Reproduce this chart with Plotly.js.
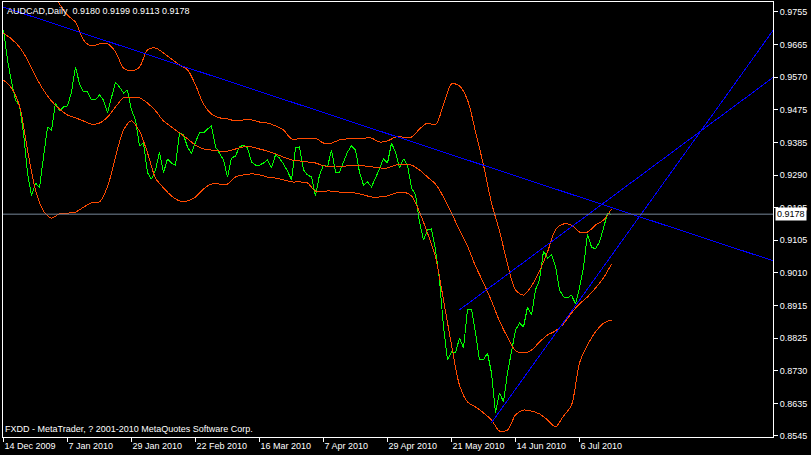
<!DOCTYPE html>
<html>
<head>
<meta charset="utf-8">
<script src="https://cdn.plot.ly/plotly-3.0.1.min.js"></script>
<style>
  html, body { margin: 0; padding: 0; background: #000; }
  #chart { width: 811px; height: 455px; }
  .scatterlayer .js-line { shape-rendering: crispEdges; }
</style>
</head>
<body>
<div id="chart"></div>
<script>
// AUDCAD daily closes with Bollinger bands and manual trend lines
const symbol = 'AUDCAD';
const period = 'Daily';
const lastBarOHLC = [0.9180, 0.9199, 0.9113, 0.9178];

// Daily closes, one per bar (bar 0 = 14 Dec 2009)
const closes = [
  0.9704, 0.9618, 0.9555, 0.9504, 0.9487, 0.9410, 0.9296, 0.9230, 0.9267, 0.9253,
  0.9341, 0.9427, 0.9418, 0.9495, 0.9473, 0.9484, 0.9487, 0.9527, 0.9598, 0.9550,
  0.9527, 0.9527, 0.9504, 0.9504, 0.9518, 0.9504, 0.9467, 0.9515, 0.9555, 0.9541,
  0.9524, 0.9532, 0.9475, 0.9447, 0.9373, 0.9381, 0.9296, 0.9278, 0.9304, 0.9355,
  0.9296, 0.9336, 0.9324, 0.9318, 0.9410, 0.9404, 0.9370, 0.9350, 0.9384, 0.9410,
  0.9410, 0.9421, 0.9430, 0.9370, 0.9350, 0.9333, 0.9284, 0.9338, 0.9344, 0.9370,
  0.9375, 0.9367, 0.9327, 0.9318, 0.9318, 0.9324, 0.9333, 0.9310, 0.9347, 0.9338,
  0.9321, 0.9301, 0.9276, 0.9367, 0.9370, 0.9304, 0.9290, 0.9284, 0.9230, 0.9290,
  0.9318, 0.9313, 0.9361, 0.9298, 0.9298, 0.9327, 0.9355, 0.9373, 0.9361, 0.9298,
  0.9261, 0.9270, 0.9256, 0.9281, 0.9310, 0.9336, 0.9324, 0.9381, 0.9355, 0.9310,
  0.9336, 0.9318, 0.9253, 0.9233, 0.9156, 0.9104, 0.9133, 0.9136, 0.9076, 0.8990,
  0.8856, 0.8762, 0.8785, 0.8782, 0.8825, 0.8796, 0.8905, 0.8907, 0.8839, 0.8762,
  0.8762, 0.8782, 0.8725, 0.8611, 0.8668, 0.8642, 0.8725, 0.8790, 0.8847, 0.8867,
  0.8856, 0.8913, 0.8890, 0.8962, 0.8990, 0.9073, 0.9053, 0.9062, 0.9030, 0.8962,
  0.8942, 0.8939, 0.8947, 0.8922, 0.8967, 0.9027, 0.9121, 0.9084, 0.9079, 0.9099,
  0.9141, 0.9179, 0.9178
];

// Bollinger bands, sampled every second bar
const bandStep = 2;
const upperBand = [
  0.9829, 0.9818, 0.9824, 0.9875, 0.9898, 0.9878, 0.9835, 0.9778, 0.9746, 0.9726,
  0.9675, 0.9658, 0.9664, 0.9664, 0.9641, 0.9595, 0.9587, 0.9598, 0.9647, 0.9652,
  0.9638, 0.9621, 0.9604, 0.9590, 0.9547, 0.9492, 0.9464, 0.9453, 0.9450, 0.9444,
  0.9447, 0.9447, 0.9441, 0.9438, 0.9430, 0.9418, 0.9393, 0.9393, 0.9393, 0.9395,
  0.9381, 0.9381, 0.9390, 0.9393, 0.9395, 0.9395, 0.9395, 0.9384, 0.9387, 0.9398,
  0.9398, 0.9398, 0.9421, 0.9438, 0.9433, 0.9490, 0.9550, 0.9544, 0.9504, 0.9413,
  0.9318, 0.9210, 0.9130, 0.9036, 0.8962, 0.8947, 0.8973, 0.9016, 0.9070, 0.9133,
  0.9150, 0.9147, 0.9127, 0.9127, 0.9147, 0.9161, 0.9193
];
const middleBand = [
  0.9695, 0.9678, 0.9655, 0.9618, 0.9572, 0.9532, 0.9501, 0.9478, 0.9461, 0.9453,
  0.9444, 0.9435, 0.9438, 0.9455, 0.9484, 0.9510, 0.9512, 0.9510, 0.9495, 0.9473,
  0.9444, 0.9427, 0.9410, 0.9393, 0.9375, 0.9364, 0.9361, 0.9358, 0.9358, 0.9364,
  0.9370, 0.9370, 0.9364, 0.9358, 0.9350, 0.9341, 0.9333, 0.9330, 0.9327, 0.9324,
  0.9316, 0.9313, 0.9313, 0.9316, 0.9316, 0.9316, 0.9313, 0.9310, 0.9310, 0.9318,
  0.9321, 0.9318, 0.9304, 0.9284, 0.9264, 0.9227, 0.9181, 0.9133, 0.9087, 0.9030,
  0.8982, 0.8930, 0.8873, 0.8827, 0.8788, 0.8782, 0.8790, 0.8813, 0.8833, 0.8845,
  0.8865, 0.8896, 0.8922, 0.8942, 0.8967, 0.8996, 0.9036
];
const lowerBand = [
  0.9561, 0.9538, 0.9487, 0.9361, 0.9247, 0.9187, 0.9167, 0.9179, 0.9181, 0.9184,
  0.9198, 0.9210, 0.9213, 0.9256, 0.9341, 0.9418, 0.9444, 0.9415, 0.9353, 0.9281,
  0.9253, 0.9230, 0.9216, 0.9216, 0.9227, 0.9250, 0.9264, 0.9264, 0.9264, 0.9284,
  0.9290, 0.9293, 0.9290, 0.9284, 0.9281, 0.9276, 0.9270, 0.9270, 0.9267, 0.9244,
  0.9244, 0.9244, 0.9241, 0.9241, 0.9238, 0.9233, 0.9227, 0.9227, 0.9230, 0.9238,
  0.9241, 0.9230, 0.9184, 0.9124, 0.9056, 0.8933, 0.8805, 0.8690, 0.8642, 0.8628,
  0.8611, 0.8591, 0.8559, 0.8562, 0.8605, 0.8619, 0.8616, 0.8608, 0.8591, 0.8571,
  0.8602, 0.8633, 0.8753, 0.8805, 0.8842, 0.8867, 0.8876
];

// Trend lines: two anchors each (bar index, price), extended to the right edge
const trendDownBars = [0, 97];
const trendDownPrices = [0.9769, 0.9404];
const channelTopBars = [114, 151];
const channelTopPrices = [0.8905, 0.9218];
const channelBottomBars = [122, 153];
const channelBottomPrices = [0.8583, 0.9076];

// Axis labels
const dateTickBars = [0, 16, 32, 48, 64, 80, 96, 112, 128, 144];
const dateTickLabels = ['14 Dec 2009', '7 Jan 2010', '29 Jan 2010', '22 Feb 2010', '16 Mar 2010',
  '7 Apr 2010', '29 Apr 2010', '21 May 2010', '14 Jun 2010', '6 Jul 2010'];
const priceTickLabels = ['0.9755', '0.9665', '0.9570', '0.9475', '0.9385', '0.9290', '0.9195',
  '0.9105', '0.9010', '0.8915', '0.8825', '0.8730', '0.8635', '0.8545'];
const copyrightText = 'FXDD - MetaTrader, ? 2001-2010 MetaQuotes Software Corp.';

// ---- layout helpers ----
const xRange = [-0.125, 192.375];
const yRange = [0.85421, 0.97835];
const FONT = 'Liberation Sans, Arial, sans-serif';

// price grid labels are evenly spaced between the outer labels
const pTop = parseFloat(priceTickLabels[0]);
const pBot = parseFloat(priceTickLabels[priceTickLabels.length - 1]);
const priceTickVals = priceTickLabels.map((_, i) =>
  pTop - i * (pTop - pBot) / (priceTickLabels.length - 1));

const barIdx = closes.map((_, i) => i);
const bandIdx = upperBand.map((_, i) => i * bandStep);

function extendLine(bars, prices) {
  const slope = (prices[1] - prices[0]) / (bars[1] - bars[0]);
  const xEnd = xRange[1];
  return { x: [bars[0], xEnd], y: [prices[0], prices[0] + slope * (xEnd - bars[0])] };
}

const BAND_COLOR = '#ff4a00';
const bandLine = { color: BAND_COLOR, width: 1, shape: 'spline', smoothing: 0.8 };

const traces = [
  { x: barIdx, y: closes, type: 'scatter', mode: 'lines',
    line: { color: '#00ff00', width: 1 } },
  { x: bandIdx, y: upperBand, type: 'scatter', mode: 'lines', line: bandLine },
  { x: bandIdx, y: middleBand, type: 'scatter', mode: 'lines', line: bandLine },
  { x: bandIdx, y: lowerBand, type: 'scatter', mode: 'lines', line: bandLine }
];
[[trendDownBars, trendDownPrices], [channelTopBars, channelTopPrices],
 [channelBottomBars, channelBottomPrices]].forEach(([b, p]) => {
  const seg = extendLine(b, p);
  traces.push({ x: seg.x, y: seg.y, type: 'scatter', mode: 'lines',
    line: { color: '#0000ff', width: 1 } });
});

const lastClose = closes[closes.length - 1];

const layout = {
  width: 811, height: 455,
  margin: { l: 3, r: 38, t: 2, b: 18, pad: 0 },
  paper_bgcolor: '#000', plot_bgcolor: '#000',
  showlegend: false, hovermode: false,
  font: { family: FONT, size: 9, color: '#fff' },
  xaxis: {
    range: xRange, showgrid: false, zeroline: false,
    showline: true, linecolor: '#fff', linewidth: 1, mirror: true,
    ticks: 'outside', ticklen: 4, tickcolor: '#fff', tickwidth: 1,
    tickmode: 'array', tickvals: dateTickBars, ticktext: dateTickLabels,
    ticklabelposition: 'outside right',
    tickfont: { family: FONT, size: 9, color: '#fff' }
  },
  yaxis: {
    range: yRange, side: 'right', showgrid: false, zeroline: false,
    showline: true, linecolor: '#fff', linewidth: 1, mirror: true,
    ticks: 'outside', ticklen: 4, tickcolor: '#fff', tickwidth: 1,
    tickmode: 'array', tickvals: priceTickVals, ticktext: priceTickLabels,
    tickfont: { family: FONT, size: 9, color: '#fff' }
  },
  shapes: [
    { type: 'line', xref: 'paper', x0: 0, x1: 1, yref: 'y', y0: lastClose, y1: lastClose,
      line: { color: '#778899', width: 1 } }
  ],
  annotations: [
    { xref: 'paper', yref: 'paper', x: 0, y: 1, xanchor: 'left', yanchor: 'top',
      xshift: 2, yshift: -2, showarrow: false, align: 'left',
      text: symbol + ',' + period + '\u00a0\u00a0' + lastBarOHLC.map(v => v.toFixed(4)).join(' '),
      font: { family: FONT, size: 9, color: '#fff' } },
    { xref: 'paper', yref: 'paper', x: 0, y: 0, xanchor: 'left', yanchor: 'bottom',
      xshift: 0, yshift: 1, showarrow: false, align: 'left',
      text: copyrightText,
      font: { family: FONT, size: 9, color: '#fff' } },
    { xref: 'paper', yref: 'y', x: 1, y: lastClose, xanchor: 'left', yanchor: 'middle',
      xshift: 2, showarrow: false, bgcolor: '#fff', borderpad: 1,
      text: lastClose.toFixed(4),
      font: { family: FONT, size: 9, color: '#000' } }
  ]
};

Plotly.newPlot('chart', traces, layout, { staticPlot: true, displayModeBar: false });
</script>
</body>
</html>
